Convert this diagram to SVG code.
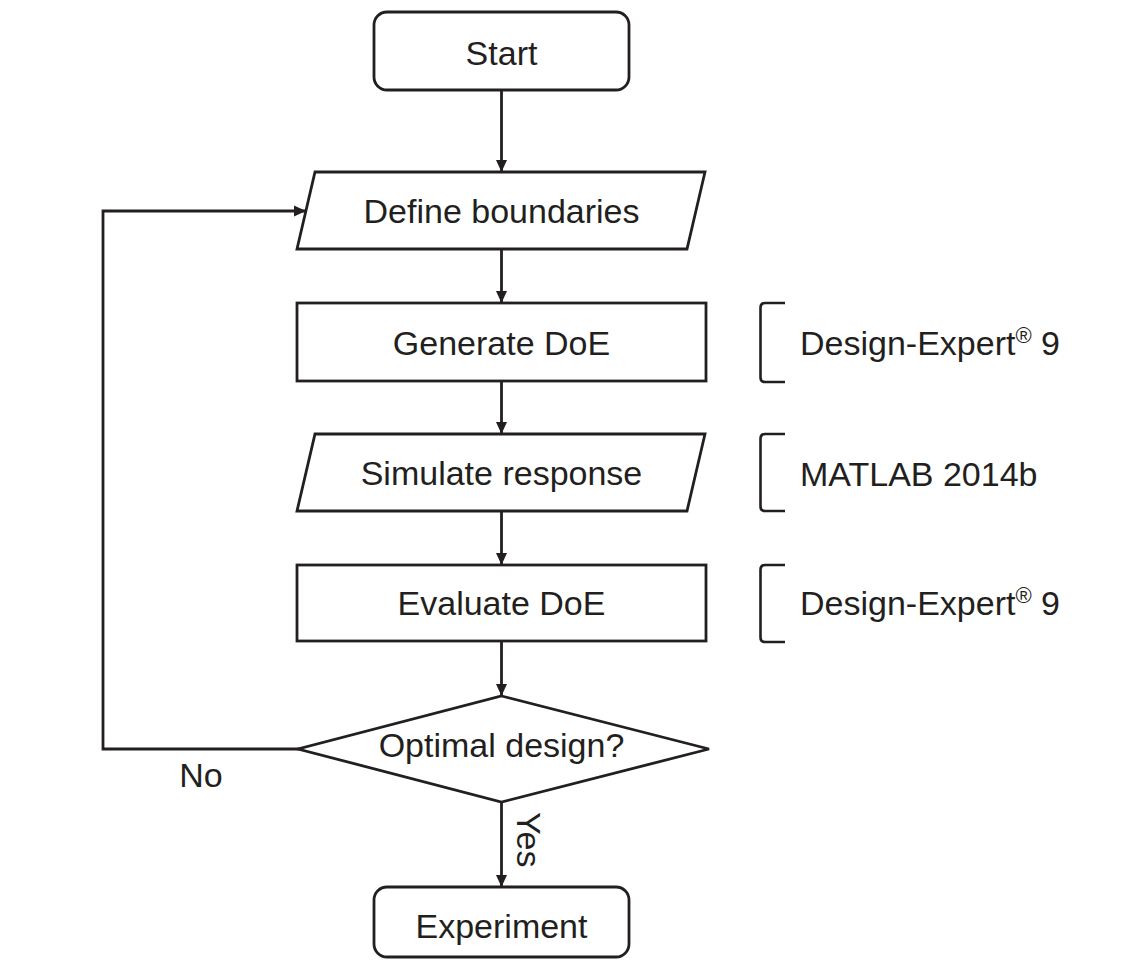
<svg xmlns="http://www.w3.org/2000/svg" width="1145" height="962" viewBox="0 0 1145 962">
  <defs>
    <marker id="arr" viewBox="0 0 12 12" refX="12" refY="6" markerWidth="12" markerHeight="12" markerUnits="userSpaceOnUse" orient="auto">
      <path d="M0,0.5 L12,6 L0,11.5 Z" fill="#231f20"/>
    </marker>
    <style>
      .shape { fill: #ffffff; stroke: #231f20; stroke-width: 2.8; stroke-linejoin: miter; }
      .conn { fill: none; stroke: #231f20; stroke-width: 2.8; }
      .brk { fill: none; stroke: #231f20; stroke-width: 2.6; }
      .lbl { font-family: "Liberation Sans", Arial, sans-serif; font-size: 34px; fill: #231f20; }
      .c { text-anchor: middle; }
    </style>
  </defs>
  <rect width="1145" height="962" fill="#ffffff"/>

  <g id="connectors">
    <line class="conn" x1="501.5" y1="90" x2="501.5" y2="172" marker-end="url(#arr)"/>
    <line class="conn" x1="501.5" y1="249" x2="501.5" y2="303" marker-end="url(#arr)"/>
    <line class="conn" x1="501.5" y1="381" x2="501.5" y2="434" marker-end="url(#arr)"/>
    <line class="conn" x1="501.5" y1="511" x2="501.5" y2="565" marker-end="url(#arr)"/>
    <line class="conn" x1="501.5" y1="641" x2="501.5" y2="696" marker-end="url(#arr)"/>
    <line class="conn" x1="501.5" y1="802" x2="501.5" y2="887" marker-end="url(#arr)"/>
    <polyline class="conn" points="299,749 103,749 103,211 306,211" marker-end="url(#arr)"/>
    <text class="lbl" x="201" y="787" text-anchor="middle">No</text>
    <text class="lbl" transform="translate(517,812) rotate(90)">Yes</text>
  </g>

  <g id="start">
    <rect class="shape" x="374" y="12" width="255" height="78" rx="13" ry="13"/>
    <text class="lbl c" x="501.5" y="65">Start</text>
  </g>

  <g id="define">
    <polygon class="shape" points="315,172 705,172 687,249 297,249"/>
    <text class="lbl c" x="501.5" y="223">Define boundaries</text>
  </g>

  <g id="generate">
    <rect class="shape" x="297" y="303" width="409" height="78"/>
    <text class="lbl c" x="501.5" y="355">Generate DoE</text>
  </g>

  <g id="simulate">
    <polygon class="shape" points="315,434 705,434 687,511 297,511"/>
    <text class="lbl c" x="501.5" y="485">Simulate response</text>
  </g>

  <g id="evaluate">
    <rect class="shape" x="297" y="565" width="409" height="76"/>
    <text class="lbl c" x="501.5" y="615">Evaluate DoE</text>
  </g>

  <g id="decision">
    <polygon class="shape" points="501.5,696 709,749 501.5,802 298,749"/>
    <text class="lbl c" x="501.5" y="757">Optimal design?</text>
  </g>

  <g id="experiment">
    <rect class="shape" x="374" y="887" width="255" height="70" rx="13" ry="13"/>
    <text class="lbl c" x="501.5" y="938">Experiment</text>
  </g>

  <g id="tool-generate">
    <path class="brk" d="M785,303 L765,303 Q760.5,303 760.5,307.5 L760.5,377.5 Q760.5,382 765,382 L785,382"/>
    <text class="lbl" x="800" y="355">Design-Expert<tspan font-size="22" dy="-12">®</tspan><tspan dy="12"> 9</tspan></text>
  </g>

  <g id="tool-simulate">
    <path class="brk" d="M785,434 L765,434 Q760.5,434 760.5,438.5 L760.5,506.5 Q760.5,511 765,511 L785,511"/>
    <text class="lbl" x="800" y="486">MATLAB 2014b</text>
  </g>

  <g id="tool-evaluate">
    <path class="brk" d="M785,565 L765,565 Q760.5,565 760.5,569.5 L760.5,637.5 Q760.5,642 765,642 L785,642"/>
    <text class="lbl" x="800" y="615">Design-Expert<tspan font-size="22" dy="-12">®</tspan><tspan dy="12"> 9</tspan></text>
  </g>
</svg>
